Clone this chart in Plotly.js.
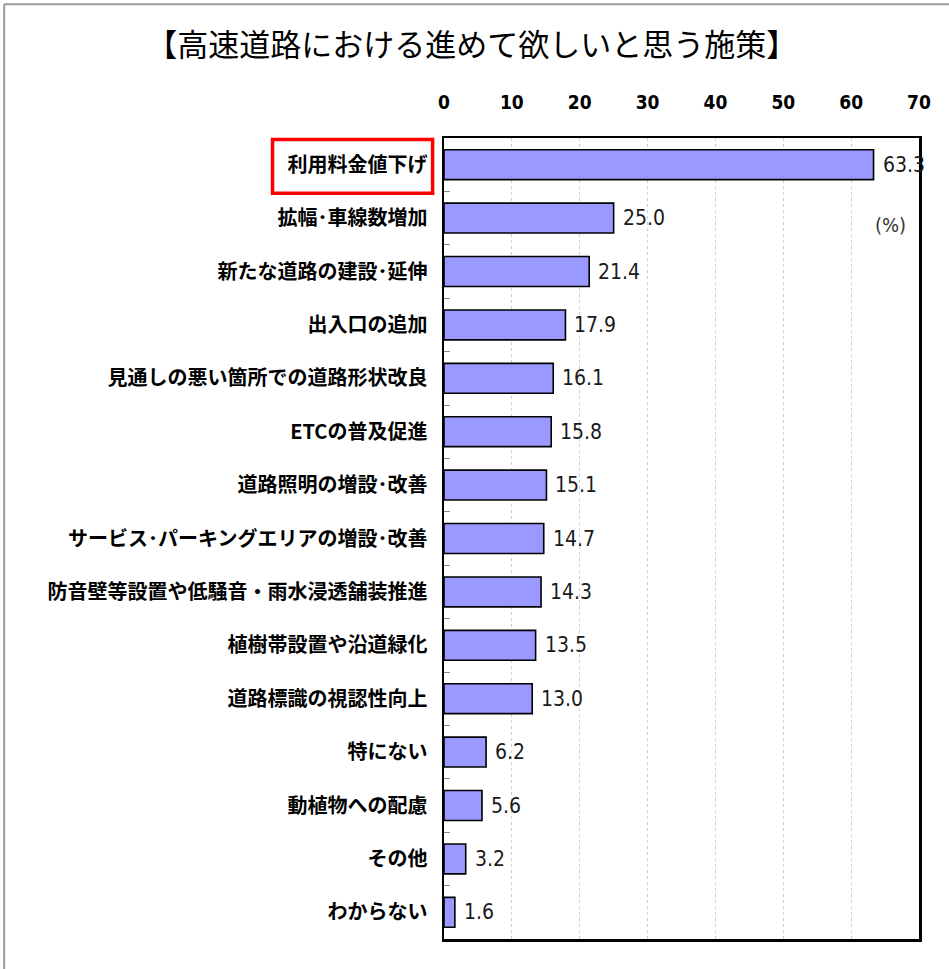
<!DOCTYPE html>
<html>
<head>
<meta charset="utf-8">
<script src="https://cdn.plot.ly/plotly-3.0.1.min.js"></script>
<style>
  html, body { margin: 0; padding: 0; background: #fff; }
  #chart { width: 949px; height: 969px; }
</style>
</head>
<body>
<div id="chart"></div>
<script>
const categories = [
  "利用料金値下げ",
  "拡幅･車線数増加",
  "新たな道路の建設･延伸",
  "出入口の追加",
  "見通しの悪い箇所での道路形状改良",
  "ETCの普及促進",
  "道路照明の増設･改善",
  "サービス･パーキングエリアの増設･改善",
  "防音壁等設置や低騒音・雨水浸透舗装推進",
  "植樹帯設置や沿道緑化",
  "道路標識の視認性向上",
  "特にない",
  "動植物への配慮",
  "その他",
  "わからない"
];
const values = [63.3, 25.0, 21.4, 17.9, 16.1, 15.8, 15.1, 14.7, 14.3, 13.5, 13.0, 6.2, 5.6, 3.2, 1.6];
const valueLabels = values.map(v => v.toFixed(1));
const xTickValues = [0, 10, 20, 30, 40, 50, 60, 70];
const xTickLabels = ["0", "10", "20", "30", "40", "50", "60", "70"];
const unitLabel = "(%)";
const titleText = "【高速道路における進めて欲しいと思う施策】";

const narrow = "Liberation Sans Narrow, DejaVu Sans Condensed, sans-serif";
const cjk = "Noto Sans CJK JP, sans-serif";

const trace = {
  type: "bar",
  orientation: "h",
  x: values,
  y: categories,
  width: 0.56,
  marker: { color: "#9999FF", line: { color: "#000000", width: 1.6 } },
  hoverinfo: "skip"
};

const annotations = values.map((v, i) => ({
  x: v, y: categories[i], xref: "x", yref: "y",
  text: valueLabels[i], showarrow: false,
  xanchor: "left", yanchor: "middle", xshift: 7,
  font: { family: narrow, size: 21, color: "#1a1a1a" }
}));
annotations.push({
  x: 0.941, y: 0.891, xref: "paper", yref: "paper",
  text: unitLabel, showarrow: false, xanchor: "center", yanchor: "middle",
  font: { family: narrow, size: 20, color: "#333" }
});

const layout = {
  width: 949, height: 969,
  margin: { l: 444, r: 30, t: 138, b: 30, pad: 0 },
  paper_bgcolor: "#ffffff",
  plot_bgcolor: "#ffffff",
  showlegend: false,
  title: {
    text: titleText,
    x: 0.497, xref: "container", xanchor: "center",
    y: 0.9536, yref: "container", yanchor: "middle",
    font: { family: cjk, size: 31, color: "#000" }
  },
  xaxis: {
    side: "top",
    range: [0, 70],
    tickmode: "array",
    tickvals: xTickValues,
    ticktext: xTickLabels,
    ticks: "",
    ticklabelstandoff: 19,
    tickfont: { family: narrow, size: 19, color: "#000", weight: "bold" },
    showgrid: true, gridcolor: "#cfcfcf", griddash: "dot", gridwidth: 1,
    zeroline: false,
    showline: true, linecolor: "#000", linewidth: 2.5, mirror: true,
    fixedrange: true
  },
  yaxis: {
    type: "category",
    range: [14.5, -0.5],
    ticks: "inside", tickson: "boundaries", ticklen: 6, tickcolor: "#888", tickwidth: 1,
    ticklabelstandoff: 10,
    tickfont: { family: cjk, size: 20, color: "#000", weight: "bold" },
    showgrid: false, zeroline: false,
    showline: true, linecolor: "#000", linewidth: 2.5, mirror: true,
    fixedrange: true
  },
  annotations: annotations,
  shapes: [
    { type: "rect", xref: "paper", yref: "paper",
      x0: -0.361, x1: -0.024, y0: 0.931, y1: 0.998,
      line: { color: "#FF0000", width: 3.5 }, fillcolor: "rgba(0,0,0,0)" },
    { type: "line", xref: "paper", yref: "paper",
      x0: -0.926, x1: 1.07, y0: 1.167, y1: 1.167,
      line: { color: "#9a9a9a", width: 2 } },
    { type: "line", xref: "paper", yref: "paper",
      x0: -0.926, x1: -0.926, y0: 1.167, y1: -0.04,
      line: { color: "#9a9a9a", width: 2 } }
  ]
};

Plotly.newPlot("chart", [trace], layout, { displayModeBar: false, staticPlot: true });
</script>
</body>
</html>
